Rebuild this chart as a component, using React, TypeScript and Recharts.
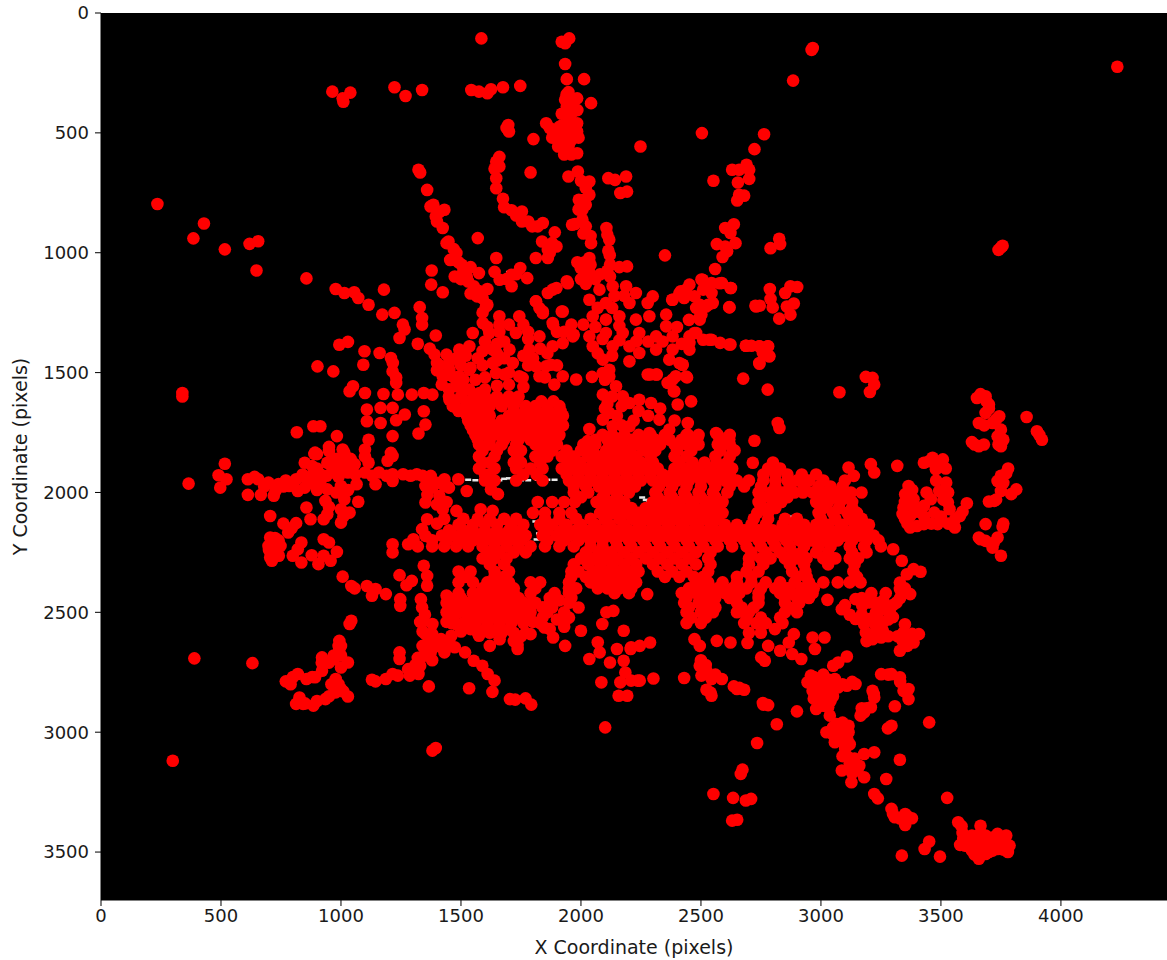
import { ScatterChart, Scatter, XAxis, YAxis, CartesianGrid } from 'recharts';

const xTicks = [0, 500, 1000, 1500, 2000, 2500, 3000, 3500, 4000];
const yTicks = [0, 500, 1000, 1500, 2000, 2500, 3000, 3500];

// [x, y] centres
const outliers = [
  [1585, 106], [1920, 120], [1951, 106], [1934, 126], [1934, 213], [1941, 276], [2013, 276],
  [964, 328], [1039, 332], [1007, 356], [1010, 370], [1223, 310], [1269, 346], [1338, 321],
  [1543, 321], [1575, 328], [1610, 335], [1625, 318], [1675, 310], [1747, 304],
  [2961, 154], [2966, 146], [2884, 282], [4235, 224], [235, 797], [429, 878], [385, 940],
  [516, 986], [619, 963], [655, 952], [648, 1074], [856, 1107], [339, 1585], [339, 1600],
  [389, 2692], [631, 2712], [299, 3119], [1381, 3077], [1395, 3066], [2101, 2980],
  [365, 1963], [3757, 971], [3740, 988], [3750, 978], [2350, 1011],
];

const northArms = [
  [1934, 362], [1984, 356], [1941, 390], [2042, 376], [1948, 439], [1984, 460], [1855, 460],
  [1891, 494], [1934, 501], [1984, 494], [1905, 557], [1948, 557], [1984, 585], [1955, 536],
  [1697, 467], [1700, 494], [1802, 526], [2248, 557], [1323, 654], [1330, 665], [1359, 738],
  [1373, 807], [1431, 821], [1395, 849], [1424, 897], [1570, 939], [1448, 953], [1481, 1001],
  [1467, 1029], [1503, 1050], [1647, 1022], [1378, 1074], [1474, 1099], [1524, 1099],
  [1575, 1085], [1376, 1133], [1424, 1165], [1553, 1140], [1610, 1151], [1567, 1182],
  [1610, 1217], [1661, 1113], [1711, 1092], [1747, 1064], [1776, 1106], [1711, 1140],
  [1647, 620], [1660, 640], [1647, 689], [1647, 731], [1675, 775], [1711, 823], [1754, 828],
  [1754, 870], [1797, 890], [1841, 876], [1891, 915], [1838, 953], [1898, 974], [1862, 988],
  [1812, 1022], [1862, 1022], [1790, 665], [1948, 682], [1987, 661], [2035, 703], [2114, 689],
  [2142, 696], [2188, 682], [2164, 751], [2192, 745], [1991, 779], [2035, 758], [2006, 821],
  [1963, 883], [2020, 890], [2042, 960], [2106, 897], [2118, 946], [2114, 992], [2006, 862],
  [2035, 1022], [1999, 1064], [2035, 1085], [2121, 1050], [2192, 1057], [2121, 1099],
  [1941, 1119], [1898, 1147], [1862, 1168], [1812, 1203], [1841, 1245], [1924, 1245],
  [1884, 1300], [1970, 1342], [2504, 501], [2763, 506], [2723, 568], [2690, 633], [2630, 654],
  [2659, 654], [2701, 654], [2701, 692], [2654, 707], [2552, 700], [2659, 758], [2680, 762],
  [2651, 782], [2637, 881], [2601, 897], [2623, 918], [2644, 960], [2566, 964], [2601, 974],
  [2609, 994], [2590, 1018], [2559, 1068], [2826, 942], [2830, 964], [2790, 981],
  [2502, 1112], [2544, 1126], [2587, 1126], [2623, 1147], [2452, 1133], [2416, 1161],
  [2380, 1196], [2430, 1189], [2473, 1182], [2509, 1154], [2544, 1168], [2530, 1217],
  [2495, 1217], [2502, 1258], [2495, 1279], [2619, 1228], [2727, 1221], [2745, 1221],
  [2787, 1151], [2790, 1193], [2799, 1228], [2826, 1275], [2851, 1168], [2873, 1140],
  [2901, 1143], [2887, 1212], [2858, 1224], [2873, 1258], [2473, 1335], [2544, 1363],
  [2623, 1383], [2687, 1388], [2710, 1388], [2580, 1376], [2509, 1363], [2452, 1376],
  [2744, 1390], [2780, 1390], [2758, 1418], [2784, 1432], [2744, 1463], [2423, 1467],
  [2395, 1515], [2442, 1520], [2366, 1543], [2387, 1578], [2288, 1508], [2316, 1508],
  [2676, 1525], [2778, 1571], [3077, 1582], [3187, 1518], [3215, 1522], [3222, 1550], [3204, 1581],
];

const northInfill = [
  [1948, 330], [1965, 370], [1920, 420], [1960, 420], [1920, 470], [1960, 480], [1880, 520],
  [1920, 530], [1970, 520], [1960, 590], [1930, 590], [1990, 520], [1870, 480], [1910, 475],
  [1985, 405], [1940, 340], [1660, 600], [1640, 650], [1690, 480], [2000, 700], [2020, 730],
  [2010, 780], [1990, 820], [2020, 800], [1975, 880], [2010, 920], [2040, 930], [2110, 925],
  [2120, 1010], [2110, 1075], [1985, 1040], [2015, 1040], [2040, 1050], [2060, 1110], [2020, 1130],
  [2080, 1090], [2000, 1110], [2160, 1060], [1385, 800], [1410, 830], [1400, 870], [1440, 960],
  [1470, 985], [1455, 1030], [1490, 1040], [1510, 1080], [1530, 1120], [1540, 1170], [1575, 1160],
  [1590, 1190], [1590, 1250], [1500, 1110], [1640, 1080], [1690, 1110], [1730, 1090], [1540, 1060],
  [1680, 810], [1730, 845], [1780, 870], [1820, 890], [1870, 1000], [1880, 960], [1320, 1380],
  [1370, 1400], [1400, 1460], [1450, 1460], [1480, 1440], [1520, 1430], [1440, 1510], [1470, 1520],
  [1510, 1530], [1560, 1530], [1400, 1490], [1420, 1550], [1450, 1570], [1510, 1570], [1560, 1610],
  [1600, 1570], [1500, 1470], [1540, 1480], [1590, 1470], [1600, 1520], [1650, 1555], [1600, 1370],
  [1610, 1310], [1660, 1300], [1700, 1300], [1760, 1300], [1780, 1330], [1650, 1450], [1680, 1440],
  [1700, 1500], [1780, 1470], [1800, 1440], [1830, 1400], [1860, 1420], [1850, 1520], [1900, 1470],
  [1900, 1330], [1930, 1330], [1960, 1300], [1700, 1550], [1760, 1560], [1650, 1380], [1590, 1410],
];

const centreNorth = [
  [2035, 1085], [2077, 1154], [2035, 1196], [2104, 1210], [2049, 1265], [2104, 1279], [2132, 1140],
  [2188, 1140], [2229, 1168], [2202, 1210], [2299, 1182], [2278, 1210], [2160, 1265], [2229, 1279],
  [2285, 1265], [2355, 1258], [2355, 1307], [2160, 1305], [2035, 1349], [2104, 1335], [2174, 1335],
  [2243, 1335], [2313, 1349], [2382, 1349], [2452, 1349], [2480, 1335], [2535, 1363], [2618, 1383],
  [2688, 1388], [2743, 1390], [2778, 1390], [2785, 1432], [2743, 1460], [2049, 1390], [2132, 1390],
  [2202, 1390], [2243, 1418], [2202, 1453], [2313, 1404], [2382, 1404], [2452, 1404], [2368, 1446],
  [2410, 1460], [2424, 1467], [2091, 1446], [2118, 1488], [2091, 1502], [2118, 1516], [2278, 1508],
  [2313, 1508], [2382, 1529], [2361, 1543], [2438, 1516], [2389, 1578], [2403, 1633], [2459, 1620],
  [2382, 1196], [2438, 1154], [2507, 1113], [2577, 1127], [2625, 1147], [2493, 1272], [2521, 1224],
  [2618, 1227], [2549, 1210], [2730, 1224], [2091, 1592], [2146, 1557], [2174, 1599], [2118, 1668],
  [2091, 1696], [2132, 1724], [2202, 1627], [2243, 1613], [2292, 1627], [2202, 1724], [2327, 1696],
  [2368, 1738], [2285, 1752], [2445, 1710], [2445, 1758], [2486, 1772], [2563, 1752], [2618, 1779],
  [2632, 1821], [2723, 1784], [2820, 1710], [2827, 1731], [2035, 1735], [2028, 1786], [2110, 1630],
  [1604, 1224], [1591, 1293], [1660, 1265], [1743, 1265], [1618, 1335], [1729, 1335], [1827, 1349],
  [1882, 1390], [1966, 1349], [1924, 1377], [1549, 1335], [1535, 1390], [1493, 1404], [1632, 1404],
  [1702, 1404], [1785, 1404], [1632, 1460], [1716, 1460], [1813, 1474], [1875, 1467], [1646, 1502],
  [1743, 1515], [1827, 1515], [1889, 1550], [1924, 1515], [1980, 1529], [2046, 1518], [1681, 1508],
  [1757, 1522], [1854, 1474], [1452, 1488], [1535, 1488], [1493, 1515], [1424, 1515], [1479, 1557],
  [1535, 1571], [1577, 1585], [1452, 1613], [1466, 1640], [1827, 1231], [1813, 1203], [1841, 1252],
  [1882, 1293], [1920, 1245], [1945, 1127], [1882, 1154], [1390, 1425], [1440, 1425], [1410, 1470],
  [2010, 1300], [1660, 1330], [1680, 1370], [1780, 1360], [1570, 1440], [1650, 1420], [1760, 1430],
  [2060, 1310], [2070, 1230], [2130, 1230], [2180, 1180], [2140, 1180], [2090, 1360], [2160, 1365],
  [2070, 1420], [2130, 1430], [2400, 1310], [2340, 1370], [2280, 1370], [2230, 1370], [2420, 1380],
  [2100, 1530], [2130, 1600], [2100, 1650], [2150, 1680], [2170, 1640], [2240, 1660], [2280, 1680],
  [2330, 1650], [2390, 1700], [2220, 1700], [2170, 1720], [2480, 1230], [2450, 1280], [2410, 1170],
];

const westArms = [
  [1179, 1154], [978, 1151], [1014, 1168], [1055, 1165], [1072, 1189], [1115, 1217], [1172, 1258],
  [1223, 1251], [1258, 1300], [1244, 1356], [1265, 1320], [1328, 1227], [1338, 1272], [1338, 1300],
  [1395, 1345], [993, 1384], [1029, 1372], [1098, 1411], [1161, 1418], [1093, 1467], [1208, 1439],
  [1215, 1495], [902, 1474], [968, 1495], [1050, 1557], [1036, 1578], [1100, 1585], [1177, 1589],
  [1230, 1543], [1237, 1592], [1295, 1592], [1345, 1585], [1381, 1592], [1108, 1654], [1108, 1703],
  [1165, 1647], [1215, 1647], [1266, 1675], [1230, 1699], [1165, 1710], [1345, 1661], [1352, 1717],
  [1323, 1754], [914, 1724], [885, 1724], [816, 1749], [983, 1765], [950, 1810], [1115, 1780],
  [1100, 1821], [1215, 1765], [1208, 1835], [1007, 1821], [889, 1839], [1216, 1460], [1230, 1520],
  [516, 1880], [490, 1928], [523, 1945], [497, 1980], [612, 1945], [655, 1945], [698, 1959],
  [640, 1935], [680, 1975], [740, 1965], [770, 1950], [813, 1945], [850, 1938], [880, 1930],
  [914, 1924], [971, 1917], [1029, 1917], [1100, 1917], [1158, 1917], [1215, 1924], [1259, 1924],
  [1316, 1924], [1374, 1931], [612, 2010], [666, 2010], [720, 2014], [727, 1994], [784, 1973],
  [820, 1994], [849, 1980], [892, 1834], [950, 1827], [849, 1876], [943, 1876], [1014, 1876],
  [1057, 1882], [1115, 1876], [1215, 1848], [1194, 1868], [1014, 1834], [914, 1959], [943, 1987],
  [935, 2035], [1000, 1973], [1014, 2028], [1036, 2084], [1072, 2039], [1065, 1966], [1144, 1966],
  [1215, 1952], [856, 2063], [873, 2112], [928, 2112], [943, 2091], [1000, 2126], [705, 2098],
  [813, 2128], [780, 2167], [795, 2148], [705, 2188], [725, 2190], [698, 2223], [748, 2223],
  [705, 2271], [741, 2264], [712, 2285], [835, 2209], [820, 2237], [799, 2264], [835, 2292],
  [928, 2195], [950, 2209], [878, 2262], [928, 2264], [906, 2299], [957, 2285], [983, 2248],
  [1007, 2351], [1043, 2390], [1057, 2400], [1108, 2390], [1129, 2431], [1144, 2403], [1187, 2424],
  [1244, 2345], [1273, 2387], [1295, 2369], [1215, 2216], [1215, 2250], [1247, 2445], [1247, 2473],
  [1280, 2216], [1302, 2195], [1036, 2549], [1043, 2535], [993, 2619], [993, 2653], [921, 2688],
  [971, 2695], [1029, 2709], [1000, 2730], [921, 2744], [892, 2771], [856, 2778], [820, 2757],
  [770, 2788], [790, 2800], [978, 2778], [1000, 2820], [1029, 2851], [978, 2834], [935, 2862],
  [885, 2889], [827, 2855], [813, 2882], [842, 2882], [1129, 2781], [1144, 2788], [1187, 2778],
  [1215, 2757], [1237, 2764], [1280, 2737], [1287, 2764], [1323, 2757], [1366, 2809], [1534, 2817],
  [1631, 2832], [1704, 2862], [1726, 2864], [1769, 2859], [1793, 2885], [1244, 2667], [1244, 2695],
  [1345, 2681], [1330, 2723], [1374, 2667], [1431, 2667], [1474, 2646], [1517, 2667], [1553, 2702],
  [1589, 2723], [1611, 2757], [1640, 2785], [1417, 2612], [1460, 2598], [1374, 2626], [1338, 2542],
  [1381, 2549], [1352, 2591], [1345, 2306], [1359, 2348], [1359, 2389], [1333, 2445], [1338, 2480],
  [1352, 2042], [1352, 1973], [1359, 2112], [1338, 2153], [1352, 2181], [1410, 2014], [1424, 2070],
  [1431, 1973], [1489, 1945], [1431, 1945], [1524, 1994], [1481, 2077], [1625, 1987], [1654, 2007],
  [1582, 2070], [1632, 2077],
];

const westInfill = [
  [1000, 1900], [960, 1890], [900, 1900], [870, 1960], [900, 1990], [840, 1925], [800, 1965],
  [760, 1975], [940, 1930], [990, 1935], [1000, 2000], [1030, 1990], [980, 2000], [950, 2060],
  [1000, 2070], [1010, 2100], [1060, 1925], [1130, 1930], [1190, 1930], [1290, 1930], [1340, 1930],
  [1040, 1860], [1100, 1850], [980, 1860], [880, 1890], [900, 1840], [1360, 2010], [1380, 1980],
  [1400, 1960], [1450, 1980], [1400, 2050], [1440, 2040], [1430, 2110], [1400, 2130],
  [1330, 2540], [1350, 2510], [1380, 2590], [1400, 2640], [1340, 2640], [1320, 2690], [1360, 2640],
  [1420, 2640], [1450, 2630], [1340, 2580], [1310, 2720], [1380, 2700], [1440, 2430], [1490, 2420],
  [1500, 2580], [1440, 2540], [1480, 2550], [1540, 2570], [1600, 2570], [1650, 2570], [1700, 2570],
  [1800, 2540], [1800, 2460], [1840, 2480], [1880, 2480], [1910, 2450], [1960, 2440], [1980, 2400],
  [1990, 2480], [1900, 2530], [1930, 2560], [1870, 2570], [1620, 2640], [1720, 2620], [1750, 2600],
  [950, 2710], [970, 2680], [1000, 2680], [880, 2770], [800, 2770], [920, 2710], [960, 2800],
  [990, 2800], [1010, 2830], [950, 2850], [900, 2870], [850, 2880], [1000, 2640], [990, 2640],
  [720, 2240], [700, 2240], [715, 2205], [740, 2200], [760, 2130],
];

const southMiddle = [
  [2000, 2577], [2089, 2549], [2135, 2494], [2106, 2500], [2178, 2577], [2070, 2625], [2150, 2653],
  [2035, 2695], [2078, 2667], [2121, 2709], [2178, 2702], [2207, 2653], [2185, 2751], [2164, 2792],
  [2236, 2785], [2085, 2792], [2157, 2848], [2193, 2848], [1848, 2563], [1884, 2605], [1934, 2640],
  [1790, 2591], [1736, 2653], [1736, 2635], [1575, 2598], [1661, 2612], [2288, 2626], [2245, 2640],
  [2209, 2646], [2302, 2776], [2245, 2785], [2209, 2785], [2276, 2424], [2430, 2774], [2495, 2723],
  [2523, 2744], [2502, 2764], [2544, 2778], [2587, 2778], [2523, 2823], [2544, 2848], [2637, 2809],
  [2680, 2823], [2473, 2612], [2495, 2640], [2566, 2619], [2623, 2626], [2694, 2628], [2780, 2640],
  [2830, 2660], [2866, 2626], [2887, 2591], [2880, 2674], [2918, 2695], [2751, 2688], [2766, 2702],
  [2808, 2570], [2965, 2605], [3015, 2605], [2975, 2653], [3027, 2448], [2552, 3258], [2634, 3274],
  [2687, 3285], [2709, 3278], [2630, 3369], [2651, 3365], [2666, 3174], [2673, 3156], [2734, 3045],
  [2816, 2967], [2758, 2878], [2780, 2887], [2900, 2913], [2500, 2700], [2520, 2720], [2560, 2760],
  [2510, 2740], [2650, 2820], [2660, 2815], [2760, 2885], [2540, 2835],
];

const eastArms = [
  [3429, 1876], [3465, 1855], [3508, 1862], [3479, 1903], [3522, 1959], [3493, 1994], [3365, 1973],
  [3351, 2007], [3386, 2028], [3344, 2063], [3372, 2098], [3372, 2146], [3429, 2056], [3472, 2084],
  [3529, 2042], [3536, 2070], [3608, 2045], [3579, 2098], [3558, 2146], [3486, 2132], [3429, 2132],
  [3458, 2028], [3400, 2080], [3350, 2110], [3400, 2140], [3510, 2000], [3440, 2000], [3772, 1920],
  [3736, 1952], [3750, 1994], [3814, 1987], [3793, 2007], [3722, 2035], [3700, 2038], [3686, 2132],
  [3757, 2144], [3658, 2188], [3686, 2202], [3736, 2188], [3715, 2230], [3750, 2264],
  [3318, 1889], [3208, 1882], [3222, 1917], [3115, 1896], [3137, 1931], [3169, 2000], [2716, 1876],
  [3686, 1599], [3650, 1606], [3700, 1633], [3686, 1668], [3743, 1682], [3658, 1710], [3715, 1710],
  [3750, 1738], [3736, 1766], [3750, 1807], [3629, 1790], [3658, 1807], [3679, 1800], [3857, 1685],
  [3900, 1745], [3921, 1780], [3910, 1760], [3372, 2424], [3329, 2403], [3315, 2459], [3287, 2501],
  [3258, 2542], [3201, 2459], [3144, 2445], [3087, 2487], [3144, 2528], [3187, 2584], [3215, 2612],
  [3251, 2605], [3229, 2501], [3265, 2487], [3201, 2528], [3258, 2577], [3344, 2584], [3408, 2591],
  [3386, 2626], [3329, 2660], [3358, 2612], [3229, 2556], [3172, 2473], [3301, 2237], [3337, 2285],
  [3386, 2320], [3415, 2331], [3358, 2341], [3329, 2376], [3300, 2520], [3260, 2450],
  [3100, 2470], [3120, 2510], [3170, 2510], [3180, 2550], [3220, 2590], [3240, 2530], [3280, 2530],
  [3300, 2470], [3330, 2440], [3350, 2400], [3230, 2460], [3170, 2440], [3210, 2420], [3270, 2420],
  [3350, 2550], [3340, 2620], [3360, 2640], [3280, 2600], [3190, 2620], [3320, 2600], [3380, 2590],
  [3380, 1990], [3350, 2040], [3390, 2060], [3360, 2130], [3340, 2090], [3430, 2100], [3460, 2130],
  [3500, 2100], [3530, 2130], [3510, 2030], [3480, 1950], [3490, 1880], [3450, 1870], [3520, 1900],
  [3530, 2000], [3560, 2110], [3590, 2080], [3665, 1590], [3690, 1620], [3700, 1650], [3730, 1695],
  [3680, 1720], [3760, 1780], [3740, 1800], [3640, 1800], [3780, 1900], [3750, 1930], [3760, 1960],
  [3730, 2030], [3665, 2195], [3720, 2210], [3760, 2130],
];

const southEast = [
  [3451, 2959], [3294, 2973], [3279, 2984], [3308, 2892], [3180, 2917], [3208, 2896], [3165, 2931],
  [3215, 2827], [3222, 2855], [3251, 2758], [3294, 2758], [3329, 2771], [3365, 2820], [3344, 2827],
  [3365, 2862], [3115, 2973], [3115, 3000], [3065, 2966], [3023, 3000], [3058, 3042], [3087, 3014],
  [3101, 3070], [3115, 3105], [3137, 3140], [3180, 3091], [3222, 3084], [3329, 3115], [3087, 3160],
  [3151, 3160], [3180, 3188], [3127, 3209], [3272, 3195], [3222, 3258], [3237, 3276], [3294, 3320],
  [3308, 3355], [3351, 3341], [3379, 3359], [3351, 3387], [3526, 3274], [3572, 3376], [3586, 3392],
  [3665, 3390], [3451, 3456], [3432, 3487], [3337, 3515], [3496, 3519], [3593, 3445], [3629, 3431],
  [3686, 3431], [3736, 3424], [3772, 3431], [3786, 3473], [3779, 3500], [3736, 3487], [3686, 3508],
  [3658, 3528], [3629, 3494], [3600, 3473], [3643, 3459], [3700, 3459], [3750, 3459], [3658, 3487],
  [3715, 3494], [3665, 3420], [3610, 3460], [3072, 2709], [3108, 2684], [3051, 2723], [2958, 2764],
  [2987, 2792], [2944, 2792], [2965, 2827], [3015, 2820], [3058, 2778], [3044, 2834], [3008, 2862],
  [3030, 2896], [2980, 2903], [3037, 2931], [3108, 2806], [3144, 2799], [3072, 2813], [3000, 2790],
  [3620, 3440], [3660, 3440], [3715, 3440], [3760, 3445], [3620, 3480], [3680, 3480], [3770, 3480],
  [3640, 3510], [3700, 3500], [3760, 3490], [3360, 3350], [3330, 3360], [3300, 3340], [3590, 3420],
  [3580, 3470], [3090, 3040], [3110, 3030], [3090, 3100], [3120, 3130], [3140, 3110], [3160, 3140],
  [3130, 3170], [3120, 3050], [3070, 3000], [3050, 3010], [3050, 2980], [3080, 2970], [3040, 2870],
  [3010, 2890], [2970, 2860], [2990, 2830], [3040, 2790], [2970, 2770], [3030, 2780], [3010, 2760],
  [3090, 2800], [3130, 2790], [3050, 2850], [3090, 2960], [3190, 2900], [3170, 2900], [3220, 2840],
  [3280, 2760], [3330, 2790], [3350, 2830],
];

// dense middle of the network, one row per y: [y, x, x, x, ...]
const coreRows = [
  [1600, 1450, 1500, 1555, 1600, 1650, 1700, 1740],
  [1620, 1475, 1525, 1580, 1630, 1680, 1725, 1835, 1885],
  [1640, 1470, 1520, 1570, 1620, 1670, 1720, 1770, 1810, 1860, 1910],
  [1660, 1490, 1545, 1600, 1720, 1770, 1815, 1865, 1915],
  [1680, 1525, 1580, 1620, 1700, 1750, 1790, 1840, 1890, 1925],
  [1700, 1530, 1570, 1610, 1670, 1720, 1770, 1815, 1865, 1910],
  [1720, 1540, 1590, 1640, 1690, 1740, 1790, 1840, 1890, 1925],
  [1740, 1550, 1600, 1650, 1700, 1750, 1800, 1850, 1900],
  [1760, 1560, 1610, 1660, 1710, 1760, 1810, 1860, 1910, 2090, 2130, 2180, 2240, 2290, 2350, 2440, 2490, 2570, 2620],
  [1780, 1570, 1620, 1680, 1740, 1790, 1840, 1880, 2060, 2110, 2150, 2210, 2260, 2310, 2370, 2420, 2470, 2590],
  [1800, 1575, 1620, 1670, 1730, 1810, 1860, 1900, 2010, 2060, 2120, 2170, 2230, 2280, 2330, 2390, 2440, 2490, 2570, 2620],
  [1825, 1590, 1650, 1720, 1750, 1830, 1880, 1940, 2000, 2050, 2105, 2155, 2205, 2260, 2310, 2400, 2460, 2580, 2640],
  [1850, 1575, 1640, 1735, 1810, 1860, 1920, 1970, 2030, 2080, 2130, 2180, 2230, 2290, 2390, 2440, 2560, 2620],
  [1875, 1590, 1620, 1720, 1750, 1830, 1945, 1995, 2050, 2100, 2150, 2200, 2250, 2300, 2410, 2465, 2515, 2565, 2610, 2800],
  [1900, 1575, 1640, 1730, 1790, 1840, 1920, 1970, 2020, 2070, 2120, 2170, 2220, 2270, 2320, 2390, 2440, 2490, 2540, 2590, 2630, 2780, 2830],
  [1925, 1600, 1620, 1760, 1815, 1940, 1990, 2040, 2090, 2140, 2190, 2240, 2290, 2340, 2380, 2420, 2470, 2520, 2570, 2620, 2760, 2810, 2860, 2920, 2980],
  [1950, 1600, 1640, 1730, 1840, 1950, 2000, 2050, 2100, 2150, 2200, 2250, 2300, 2350, 2400, 2450, 2500, 2550, 2600, 2650, 2700, 2760, 2810, 2860, 2900, 2950, 3010, 3100],
  [1975, 1970, 2020, 2075, 2125, 2175, 2225, 2325, 2380, 2440, 2500, 2560, 2620, 2680, 2750, 2810, 2870, 2930, 2990, 3040, 3090],
  [2000, 1970, 2030, 2100, 2150, 2200, 2310, 2370, 2430, 2490, 2550, 2610, 2740, 2790, 2840, 2890, 2925, 2965, 3020, 3070, 3125],
  [2020, 2000, 2090, 2150, 2320, 2380, 2440, 2500, 2560, 2760, 2820, 2860, 3000, 3055, 3105],
  [2040, 1820, 1880, 1930, 1975, 2065, 2120, 2180, 2300, 2350, 2410, 2470, 2530, 2590, 2740, 2800, 2835, 2980, 3030, 3080, 3130],
  [2065, 2100, 2150, 2210, 2270, 2330, 2390, 2450, 2510, 2565, 2760, 2810, 3010, 3075, 3130],
  [2085, 1800, 1850, 1910, 1960, 2080, 2130, 2190, 2240, 2300, 2360, 2420, 2480, 2540, 2590, 2735, 2780, 2990, 3050, 3110, 3150],
  [2110, 1510, 1570, 1620, 1680, 1730, 1850, 1910, 1980, 2040, 2100, 2160, 2215, 2270, 2330, 2390, 2450, 2510, 2570, 2720, 2780, 2850, 2900, 3000, 3060, 3120, 3170],
  [2135, 1490, 1550, 1600, 1650, 1710, 1760, 1830, 1880, 1940, 2000, 2060, 2120, 2180, 2240, 2300, 2360, 2420, 2480, 2540, 2600, 2650, 2710, 2770, 2840, 2890, 2930, 2980, 3030, 3090, 3150, 3200],
  [2158, 1450, 1510, 1550, 1600, 1650, 1700, 1750, 1860, 1920, 1980, 2035, 2090, 2145, 2200, 2260, 2320, 2380, 2440, 2500, 2560, 2620, 2680, 2740, 2800, 2860, 2910, 2960, 3010, 3070, 3130, 3190],
  [2180, 1420, 1470, 1530, 1570, 1620, 1670, 1730, 1770, 1840, 1900, 1950, 2010, 2060, 2120, 2170, 2230, 2290, 2350, 2410, 2470, 2530, 2590, 2650, 2710, 2770, 2830, 2880, 2940, 2990, 3040, 3100, 3160, 3220],
  [2200, 1380, 1440, 1500, 1550, 1600, 1650, 1700, 1750, 1860, 1930, 1990, 2040, 2090, 2145, 2200, 2260, 2320, 2380, 2440, 2500, 2560, 2620, 2680, 2740, 2800, 2855, 2910, 2960, 3010, 3070, 3130, 3190, 3240],
  [2225, 1320, 1380, 1430, 1480, 1530, 1590, 1640, 1690, 1740, 1790, 1850, 1910, 1970, 2040, 2090, 2150, 2210, 2270, 2330, 2390, 2450, 2510, 2570, 2630, 2690, 2750, 2810, 2870, 2930, 2990, 3040, 3120, 3180, 3250],
  [2250, 1610, 1660, 1720, 1770, 2020, 2075, 2125, 2180, 2240, 2300, 2360, 2420, 2480, 2540, 2710, 2770, 2830, 2880, 2920, 2980, 3030, 3130, 3190],
  [2275, 1590, 1640, 1690, 2000, 2050, 2100, 2150, 2210, 2270, 2330, 2390, 2450, 2530, 2700, 2750, 2790, 2850, 2900, 2940, 3010, 3060, 3120, 3155],
  [2300, 1620, 1680, 1970, 2030, 2080, 2130, 2180, 2230, 2300, 2360, 2420, 2480, 2540, 2700, 2760, 2870, 2930, 3030, 3140],
  [2330, 1490, 1540, 1640, 1700, 1960, 1990, 2050, 2100, 2150, 2200, 2240, 2320, 2380, 2440, 2530, 2690, 2740, 2880, 2935, 3135],
  [2352, 1520, 1640, 1680, 1960, 2020, 2070, 2120, 2170, 2220, 2350, 2410, 2470, 2510, 2650, 2710, 2900, 2940, 3150],
  [2375, 1490, 1550, 1610, 1650, 1700, 1790, 1830, 1950, 2040, 2080, 2130, 2180, 2230, 2480, 2530, 2590, 2650, 2710, 2770, 2830, 2890, 2950, 3010, 3070, 3120, 3165],
  [2400, 1590, 1630, 1680, 1720, 1810, 1950, 2070, 2110, 2160, 2210, 2450, 2510, 2570, 2630, 2690, 2750, 2810, 2860, 2920, 2970],
  [2420, 1550, 1610, 1650, 1720, 1790, 1890, 1950, 2140, 2200, 2420, 2480, 2540, 2600, 2660, 2740, 2830, 2880, 2930, 2965],
  [2440, 1450, 1500, 1570, 1630, 1680, 1740, 1870, 2440, 2500, 2560, 2620, 2740, 2850, 2900, 2950],
  [2460, 1440, 1480, 1530, 1590, 1650, 1700, 1760, 1810, 1870, 1950, 2430, 2490, 2540, 2650, 2740, 2850, 2910],
  [2480, 1460, 1510, 1560, 1610, 1660, 1720, 1770, 1840, 2450, 2510, 2560, 2670, 2720, 2870],
  [2500, 1440, 1490, 1540, 1590, 1640, 1690, 1740, 1790, 1860, 1930, 2440, 2500, 2550, 2650, 2700, 2850, 2900],
  [2522, 1470, 1530, 1580, 1630, 1680, 1730, 1780, 1840, 1950, 2460, 2520, 2690, 2750, 2830],
  [2545, 1460, 1510, 1560, 1610, 1660, 1710, 1760, 1830, 1930, 2440, 2500, 2680, 2730, 2770, 2840],
  [2585, 1570, 1620, 1670, 1720, 1770, 2700, 2750],
];

// specks of the thresholded image that show between the dots
const whiteSpecks = [
  [1530, 1946], [1560, 1948], [1620, 1950], [1640, 1940], [1660, 1948], [1680, 1942], [1700, 1940],
  [1750, 1948], [1780, 1948], [1820, 1946], [1860, 1946], [1890, 1946], [2255, 2020], [2270, 2030],
  [2285, 2040], [2225, 2082], [2240, 2078], [2950, 2785], [2955, 2800], [2960, 2820], [2985, 2850],
  [3420, 2332], [1720, 2119], [1760, 2125], [1810, 2120], [1840, 2125], [1900, 2118], [1930, 2118],
  [1825, 2170], [1815, 2195], [1790, 2215], [1760, 2235], [2880, 2100], [1700, 1080],
];

const toPoints = (pairs: number[][]) => pairs.map(([x, y]) => ({ x, y }));
const rowPoints = coreRows.flatMap(([y, ...xs]) => xs.map((x) => ({ x, y })));

const points = [
  ...toPoints(outliers),
  ...toPoints(northArms),
  ...toPoints(northInfill),
  ...toPoints(centreNorth),
  ...toPoints(westArms),
  ...toPoints(westInfill),
  ...toPoints(southMiddle),
  ...toPoints(eastArms),
  ...toPoints(southEast),
  ...rowPoints,
];

const tickStyle = { fill: '#1a1a1a', fontSize: 18, fontFamily: 'DejaVu Sans' };
const labelStyle = { fill: '#1a1a1a', fontSize: 19, fontFamily: 'DejaVu Sans' };

const Dot = (p: any) => <circle cx={p.cx} cy={p.cy} r={6.3} fill="#ff0000" />;
const Speck = (p: any) => <rect x={p.cx - 3} y={p.cy - 1} width={6} height={2.5} fill="#e6e6e6" />;

export default function App() {
  return (
    <div style={{ position: 'absolute', left: 0, top: 0, width: 1167, height: 960, background: '#fff' }}>
      <ScatterChart width={1167} height={960} margin={{ top: 13, right: 0, bottom: 0, left: 0 }}>
        <CartesianGrid horizontal={false} vertical={false} fill="#000" />
        <XAxis
          type="number"
          dataKey="x"
          domain={[0, 4442]}
          ticks={xTicks}
          height={60}
          allowDataOverflow
          tick={tickStyle}
          tickSize={6}
          tickMargin={3}
          stroke="#000"
          interval={0}
          label={{ value: 'X Coordinate (pixels)', position: 'insideBottom', offset: 6, style: labelStyle }}
        />
        <YAxis
          type="number"
          dataKey="y"
          reversed
          domain={[0, 3700]}
          ticks={yTicks}
          width={101}
          allowDataOverflow
          tick={tickStyle}
          tickSize={6}
          tickMargin={6}
          stroke="#000"
          interval={0}
          label={{ value: 'Y Coordinate (pixels)', angle: -90, position: 'insideLeft', offset: 20, style: { ...labelStyle, textAnchor: 'middle' } }}
        />
        <Scatter data={toPoints(whiteSpecks)} shape={Speck} isAnimationActive={false} />
        <Scatter data={points} shape={Dot} isAnimationActive={false} />
      </ScatterChart>
    </div>
  );
}
